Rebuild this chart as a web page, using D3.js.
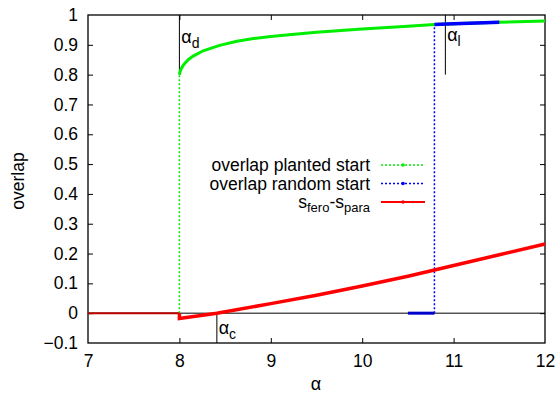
<!DOCTYPE html>
<html><head><meta charset="utf-8">
<script src="https://cdn.jsdelivr.net/npm/d3@7/dist/d3.min.js"></script>
<style>body{margin:0;background:#fff}svg{font-family:"Liberation Sans",Arial,sans-serif}</style>
</head><body><svg id="c" width="558" height="396"></svg>
<script>
const xTicks=[7,8,9,10,11,12];
const yTicks=[-0.1,0,0.1,0.2,0.3,0.4,0.5,0.6,0.7,0.8,0.9,1];
// overlap planted start (solid branch)
const plantedAlpha=[8.0,8.01,8.02,8.04,8.06,8.1,8.15,8.26,8.44,8.63,8.81,9.0,9.2,9.5,10.0,10.5,10.79,11.0,11.5,12.0];
const plantedVal=[0.80,0.812,0.82,0.83,0.838,0.851,0.862,0.88,0.898,0.912,0.921,0.928,0.934,0.942,0.953,0.962,0.968,0.971,0.976,0.980];
// planted start jump (dotted)
const plantedJumpAlpha=[8.0,8.0];
const plantedJumpVal=[0,0.80];
// overlap random start
const randLowAlpha=[10.5,10.79];
const randLowVal=[0,0];
const randJumpAlpha=[10.79,10.79];
const randJumpVal=[0,0.968];
const randHighAlpha=[10.79,11.0,11.25,11.5];
const randHighVal=[0.968,0.971,0.973,0.976];
// s_fero - s_para
const sAlphaFlat=[7,8];
const sValFlat=[0,0];
const sAlpha=[8.0,8.0,8.41,9.0,9.5,10.0,10.5,11.0,11.5,12.0];
const sVal=[0,-0.018,0,0.032,0.06,0.091,0.124,0.16,0.196,0.232];
const markers=[{name:"\u03b1",sub:"d",x:8.0,y0:0.8,y1:1,lx:8.02,ly:0.905},
 {name:"\u03b1",sub:"l",x:10.91,y0:0.8,y1:1,lx:10.93,ly:0.912},
 {name:"\u03b1",sub:"c",x:8.41,y0:-0.1,y1:0,lx:8.43,ly:-0.07}];

const FS=17.5;
const svg=d3.select("#c");
const L=88,R=545,T=15,B=343;
const x=d3.scaleLinear().domain([7,12]).range([L,R]);
const y=d3.scaleLinear().domain([-0.1,1]).range([B,T]);
// zero line
svg.append("line").attr("x1",L).attr("x2",R).attr("y1",y(0)).attr("y2",y(0)).attr("stroke","#000").attr("stroke-width",1);
const gx=svg.append("g").attr("transform",`translate(0,${B})`).call(d3.axisBottom(x).tickValues(xTicks).tickSize(-5).tickPadding(12).tickFormat(d3.format("d")));
const gxt=svg.append("g").attr("transform",`translate(0,${T})`).call(d3.axisTop(x).tickValues(xTicks).tickSize(-5).tickFormat(""));
const gy=svg.append("g").attr("transform",`translate(${L},0)`).call(d3.axisLeft(y).tickValues(yTicks).tickSize(-5).tickPadding(10).tickFormat(d=>d3.format("")(+d.toFixed(1))));
const gyr=svg.append("g").attr("transform",`translate(${R},0)`).call(d3.axisRight(y).tickValues(yTicks).tickSize(-5).tickFormat(""));
[gx,gxt,gy,gyr].forEach(a=>{a.select(".domain").remove();a.selectAll("line").attr("stroke","#000");a.selectAll("text").attr("font-size",FS).attr("fill","#000").attr("font-family","Liberation Sans, Arial, sans-serif");});
gx.selectAll(".tick").filter(d=>d===7||d===12).select("line").remove();
gxt.selectAll(".tick").filter(d=>d===7||d===12).select("line").remove();
gy.selectAll(".tick").filter((d,i)=>i===0||i===yTicks.length-1).select("line").remove();
gyr.selectAll(".tick").filter((d,i)=>i===0||i===yTicks.length-1).select("line").remove();
// frame
svg.append("rect").attr("x",L).attr("y",T).attr("width",R-L).attr("height",B-T).attr("fill","none").attr("stroke","#000").attr("stroke-width",1.3);

const line=d3.line().x(d=>x(d[0])).y(d=>y(d[1]));
const zip=(a,b)=>a.map((v,i)=>[v,b[i]]);
// marker lines
markers.forEach(m=>{
 svg.append("line").attr("x1",x(m.x)).attr("x2",x(m.x)).attr("y1",y(m.y0)).attr("y2",y(m.y1)).attr("stroke","#000").attr("stroke-width",1);
 const t=svg.append("text").attr("x",x(m.lx)).attr("y",y(m.ly)).attr("font-size",18).attr("fill","#000");
 t.append("tspan").text(m.name);
 t.append("tspan").attr("dy",5).attr("font-size",14).text(m.sub);
});
// series
svg.append("path").attr("d",line(zip(plantedJumpAlpha,plantedJumpVal))).attr("fill","none").attr("stroke","#00ee00").attr("stroke-width",1.5).attr("stroke-dasharray","2,2");
svg.append("path").attr("d",line(zip(randJumpAlpha,randJumpVal))).attr("fill","none").attr("stroke","#0000ff").attr("stroke-width",1.5).attr("stroke-dasharray","2,2");
svg.append("path").attr("d",line(zip(plantedAlpha,plantedVal))).attr("fill","none").attr("stroke","#00ee00").attr("stroke-width",3);
svg.append("path").attr("d",line(zip(randLowAlpha,randLowVal))).attr("fill","none").attr("stroke","#0000cc").attr("stroke-width",3);
svg.append("path").attr("d",line(zip(randHighAlpha,randHighVal))).attr("fill","none").attr("stroke","#0000ff").attr("stroke-width",3.5);
svg.append("path").attr("d",line(zip(sAlphaFlat,sValFlat))).attr("fill","none").attr("stroke","#bb0000").attr("stroke-width",2);
svg.append("path").attr("d",line(zip(sAlpha,sVal))).attr("fill","none").attr("stroke","#ff0000").attr("stroke-width",3.5);

// legend
const leg=[{t:"overlap planted start",c:"#00ee00",dash:"2,2",w:1.5},{t:"overlap random start",c:"#0000ff",dash:"2,2",w:1.5},{t:null,c:"#ff0000",dash:null,w:2}];
leg.forEach((d,i)=>{
 const yy=165+i*18.5;
 const tx=svg.append("text").attr("x",370).attr("y",yy+6).attr("text-anchor","end").attr("font-size",FS).attr("fill","#000");
 if(d.t) tx.text(d.t); else {tx.append("tspan").text("s");tx.append("tspan").attr("dy",4).attr("font-size",13).text("fero");tx.append("tspan").attr("dy",-4).text("-s");tx.append("tspan").attr("dy",4).attr("font-size",13).text("para");}
 svg.append("line").attr("x1",381).attr("x2",425).attr("y1",yy).attr("y2",yy).attr("stroke",d.c).attr("stroke-width",d.w).attr("stroke-dasharray",d.dash);
 svg.append("circle").attr("cx",403).attr("cy",yy).attr("r",1.8).attr("fill",d.c);
});
// axis titles
svg.append("text").attr("transform","translate(24,181) rotate(-90)").attr("text-anchor","middle").attr("font-size",FS).text("overlap");
svg.append("text").attr("x",316).attr("y",390).attr("text-anchor","middle").attr("font-size",18).text("\u03b1");
</script></body></html>
